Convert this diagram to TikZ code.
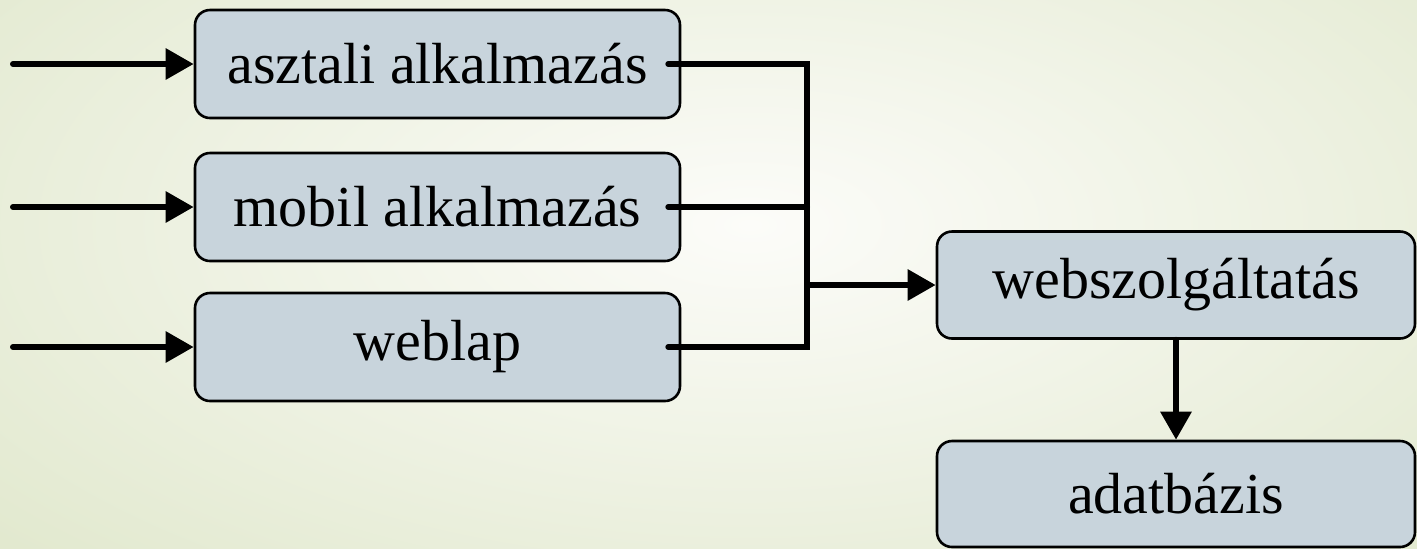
\documentclass[tikz,border=0pt]{standalone}
\usepackage{fontspec}
\setmainfont{Liberation Serif}
\usetikzlibrary{arrows.meta}
\definecolor{boxfill}{HTML}{C8D4DC}
\definecolor{bglight}{HTML}{FCFCF9}
\definecolor{bggreen}{HTML}{E2E9CF}
\begin{document}
\begin{tikzpicture}[x=0.5pt,y=-0.5pt,
  box/.style={draw=black, line width=1.3pt, fill=boxfill, rounded corners=7.5pt,
    minimum width=242.5pt, minimum height=54pt, inner sep=0pt,
    font=\fontsize{29}{35}\selectfont},
  flow/.style={line width=3pt, line cap=round, -{Triangle[length=14pt,width=15pt]}},
  link/.style={line width=3pt, line cap=round}]
  % page and soft background
  \useasboundingbox (0,0) rectangle (1417,548);
  \begin{scope}
    \clip (0,0) rectangle (1417,548);
    \shade[inner color=bglight, outer color=bggreen] (-250,-250) rectangle (1750,700);
  \end{scope}

  % client boxes
  \node[box] (a) at (437.5,64) {asztali alkalmazás};
  \node[box] (b) at (437.5,207) {mobil alkalmazás};
  \node[box] (c) at (437.5,347) {weblap};
  % service and database
  \node[box, minimum width=239pt, minimum height=53.5pt] (d) at (1176,285) {webszolgáltatás};
  \node[box, minimum width=239pt, minimum height=53pt] (e) at (1176,494) {adatbázis};

  % incoming requests
  \coordinate (ia) at (13,64);
  \coordinate (ib) at (13,207);
  \coordinate (ic) at (13,347);
  \draw[flow] (ia) -- (a.west);
  \draw[flow] (ib) -- (b.west);
  \draw[flow] (ic) -- (c.west);

  % collecting bus towards the service
  \coordinate (bt) at (807,64);
  \coordinate (bb) at (807,347);
  \draw[link] ([xshift=-6.5pt]a.east) -- (bt) -- (bb) -- ([xshift=-6.5pt]c.east);
  \draw[link] ([xshift=-6.5pt]b.east) -- (b.east -| bt);
  \draw[flow] (d.west -| bt) -- (d.west);

  % service to database
  \draw[flow] (d.south) -- (e.north);
\end{tikzpicture}
\end{document}
